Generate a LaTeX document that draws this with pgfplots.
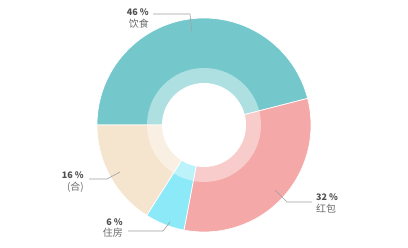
\documentclass[border=0pt]{standalone}
\usepackage{pgfplots}
\usepackage{pgfplotstable}
\usepackage{fontspec}
\pgfplotsset{compat=1.18}
\setmainfont{Noto Sans CJK SC}
\definecolor{cTeal}{RGB}{116,200,204}
\definecolor{cPink}{RGB}{245,168,168}
\definecolor{cCyan}{RGB}{140,233,248}
\definecolor{cTan}{RGB}{245,228,206}
\definecolor{numtxt}{RGB}{80,80,80}
\definecolor{cntxt}{RGB}{105,105,105}
\definecolor{leader}{RGB}{160,160,160}
\pgfplotstableread{
pct col
46 cTeal
32 cPink
6 cCyan
16 cTan
}\piedata
\begin{document}
\begin{tikzpicture}
\begin{axis}[
  x=1bp, y=1bp, xmin=0, xmax=408, ymin=0, ymax=248,
  hide axis, clip=false, scale only axis,
]
\path (axis cs:0,0) rectangle (axis cs:408,248);
\pgfplotstablegetrowsof{\piedata}
\pgfmathtruncatemacro\N{\pgfplotsretval-1}
\def\startang{180}
\pgfplotsforeachungrouped \i in {0,...,\N}{%
  \pgfplotstablegetelem{\i}{pct}\of\piedata \let\p\pgfplotsretval
  \pgfplotstablegetelem{\i}{col}\of\piedata \let\c\pgfplotsretval
  \pgfmathsetmacro\endang{\startang - 3.6*\p}%
  \edef\temp{\noexpand\fill[\c, draw=white, line width=0.7pt] (axis cs:204,123) -- ++(\startang:107bp) arc[start angle=\startang, end angle=\endang, radius=107bp] -- cycle;}%
  \temp
  \global\let\startang\endang
}
\fill[white, opacity=0.42] (axis cs:204,123) circle[radius=57bp];
\fill[white] (axis cs:204,123) circle[radius=42bp];
% leader lines
\draw[leader, line width=0.6pt] (axis cs:153,234) -- (axis cs:190,234) -- (axis cs:192,215);
\draw[leader, line width=0.6pt] (axis cs:89,69) -- (axis cs:107,69) -- (axis cs:120,76);
\draw[leader, line width=0.6pt] (axis cs:312,46) -- (axis cs:287,46) -- (axis cs:275,58);
\draw[leader, line width=0.6pt] (axis cs:128,17) -- (axis cs:163,17) -- (axis cs:170,26);
% labels
\node[anchor=east, align=right, inner sep=0pt] at (axis cs:149,229.5)
  {{\fontsize{9}{12.5}\selectfont\bfseries\color{numtxt}46 \%}\\{\fontsize{10}{12.5}\selectfont\color{cntxt}饮食}};
\node[anchor=east, align=right, inner sep=0pt] at (axis cs:84,65.5)
  {{\fontsize{9}{12.5}\selectfont\bfseries\color{numtxt}16 \%}\\{\fontsize{10}{12.5}\selectfont\color{cntxt}(合)}};
\node[anchor=west, align=left, inner sep=0pt] at (axis cs:316,45)
  {{\fontsize{9}{12.5}\selectfont\bfseries\color{numtxt}32 \%}\\{\fontsize{10}{12.5}\selectfont\color{cntxt}红包}};
\node[anchor=east, align=right, inner sep=0pt] at (axis cs:123,20)
  {{\fontsize{9}{12.5}\selectfont\bfseries\color{numtxt}6 \%}\\{\fontsize{10}{12.5}\selectfont\color{cntxt}住房}};
\end{axis}
\end{tikzpicture}
\end{document}
